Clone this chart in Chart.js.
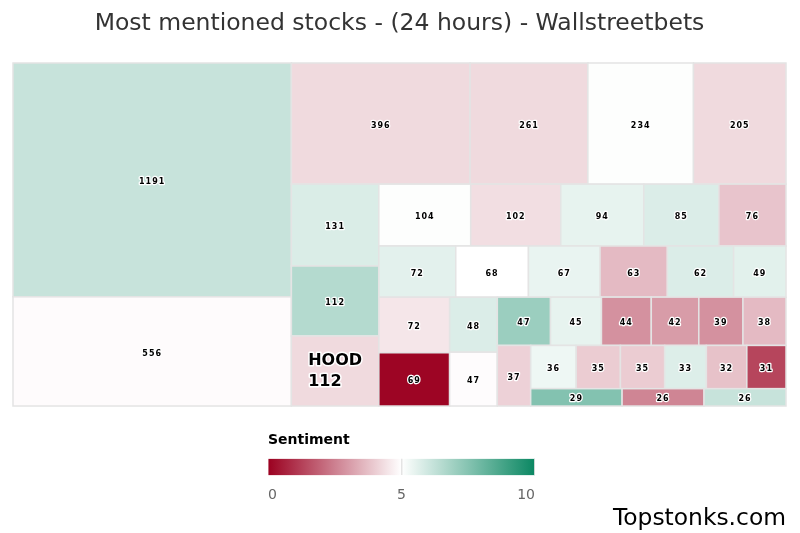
<!DOCTYPE html>
<html>
<head>
<meta charset="utf-8">
<script src="https://cdn.jsdelivr.net/npm/chart.js@4.4.1/dist/chart.umd.min.js"></script>
<style>
  html, body { margin: 0; padding: 0; background: #fff; }
  #wrap { position: relative; width: 800px; height: 533px; }
  #mainChart { position: absolute; left: 0; top: 0; }
  #scaleChart { position: absolute; left: 268px; top: 428px; }
</style>
</head>
<body>
<div id="wrap">
  <canvas id="mainChart" width="800" height="533"></canvas>
  <canvas id="scaleChart" width="267" height="76"></canvas>
</div>
<script>
// mentions in 24h, in the order the tiles are laid out
const mentions = [1191, 556, 396, 261, 234, 205, 131, 112, 112, 104, 102, 94, 85, 76,
  72, 68, 67, 63, 62, 49, 72, 69, 48, 47, 47, 45, 44, 42, 39, 38, 37,
  36, 35, 35, 33, 32, 31, 29, 26, 26];
// sentiment 0..10 (colour of the tile)
const sentiment = [6.15, 4.93, 4.27, 4.27, 5.05, 4.27, 5.75, 6.53, 4.27, 5.05, 4.35, 5.5, 5.73, 3.85,
  5.57, 5.0, 5.45, 3.65, 5.73, 5.6, 4.5, 0.1, 5.73, 4.95, 7.04, 5.5, 2.85, 3.05, 2.85, 3.65, 4.1,
  5.35, 4.0, 4.0, 5.7, 3.8, 1.35, 7.53, 2.6, 6.15];
// tickers that are written on the tiles (only one is shown)
const tickers = ['', '', '', '', '', '', '', '', 'HOOD', '', '', '', '', '',
  '', '', '', '', '', '', '', '', '', '', '', '', '', '', '', '', '',
  '', '', '', '', '', '', '', '', ''];
// segment of the treemap each tile belongs to
const segment = [0, 0, 1, 1, 1, 1, 2, 2, 2, 3, 3, 3, 3, 3,
  4, 4, 4, 4, 4, 4, 5, 5, 6, 6, 7, 7, 7, 7, 7, 7, 8,
  9, 9, 9, 9, 9, 9, 10, 10, 10];
const sentimentTicks = [0, 5, 10];

const titleText = 'Most mentioned stocks - (24 hours) - Wallstreetbets';
const fontFamily = '"DejaVu Sans", Verdana, sans-serif';

const RED = [155, 0, 32];
const GREEN = [10, 135, 98];

function sentimentColor(v) {
  var t, c;
  if (v < 5) { t = (5 - v) / 5; c = RED; }
  else { t = (v - 5) / 5; c = GREEN; }
  const r = Math.round(255 + (c[0] - 255) * t);
  const g = Math.round(255 + (c[1] - 255) * t);
  const b = Math.round(255 + (c[2] - 255) * t);
  return 'rgb(' + r + ',' + g + ',' + b + ')';
}

// every segment becomes a strip, laid along the side that keeps its tiles squarest
function layoutSegments(vals, segs, w, h) {
  const total = vals.reduce((a, b) => a + b, 0);
  const k = w * h / total;
  var rx = 0, ry = 0, rw = w, rh = h;
  const out = [];
  const order = [...new Set(segs)];
  order.forEach(s => {
    const idx = vals.map((v, i) => i).filter(i => segs[i] === s);
    const area = idx.reduce((a, i) => a + vals[i] * k, 0);
    const worst = (len) => {
      const t = area / len;
      return Math.max(...idx.map(i => {
        const l = vals[i] * k / t;
        return Math.max(l / t, t / l);
      }));
    };
    if (worst(rh) <= worst(rw)) {
      const t = area / rh;
      var yy = ry;
      idx.forEach(i => {
        const l = vals[i] * k / t;
        out[i] = { x: rx, y: yy, w: t, h: l };
        yy += l;
      });
      rx += t; rw -= t;
    } else {
      const t = area / rw;
      var xx = rx;
      idx.forEach(i => {
        const l = vals[i] * k / t;
        out[i] = { x: xx, y: ry, w: l, h: t };
        xx += l;
      });
      ry += t; rh -= t;
    }
  });
  return out;
}

const haloText = (ctx, text, x, y) => {
  ctx.strokeText(text, x, y);
  ctx.fillText(text, x, y);
};

const treemapCells = {
  id: 'treemapCells',
  afterDatasetsDraw(chart) {
    const { ctx, chartArea, scales } = chart;
    const cw = chartArea.width, chh = chartArea.height;
    const cells = layoutSegments(mentions, segment, cw, chh);
    ctx.save();
    cells.forEach((c, i) => {
      const x0 = scales.x.getPixelForValue(100 * c.x / cw);
      const x1 = scales.x.getPixelForValue(100 * (c.x + c.w) / cw);
      const y0 = scales.y.getPixelForValue(100 * c.y / chh);
      const y1 = scales.y.getPixelForValue(100 * (c.y + c.h) / chh);
      ctx.fillStyle = sentimentColor(sentiment[i]);
      ctx.fillRect(x0, y0, x1 - x0, y1 - y0);
      ctx.strokeStyle = '#e4e4e4';
      ctx.lineWidth = 1.5;
      ctx.strokeRect(x0, y0, x1 - x0, y1 - y0);
    });
    // labels
    ctx.lineJoin = 'round';
    ctx.strokeStyle = '#fff';
    ctx.fillStyle = '#000';
    ctx.textBaseline = 'middle';
    cells.forEach((c, i) => {
      const cx = scales.x.getPixelForValue(100 * (c.x + c.w / 2) / cw);
      const cy = scales.y.getPixelForValue(100 * (c.y + c.h / 2) / chh);
      if (tickers[i]) {
        ctx.font = 'bold 16px ' + fontFamily;
        ctx.letterSpacing = '0px';
        ctx.lineWidth = 3;
        const tw = ctx.measureText(tickers[i]).width;
        ctx.textAlign = 'left';
        haloText(ctx, tickers[i], cx - tw / 2, cy - 10);
        haloText(ctx, String(mentions[i]), cx - tw / 2, cy + 11);
      } else {
        ctx.font = 'bold 8px ' + fontFamily;
        ctx.letterSpacing = '1px';
        ctx.lineWidth = 2.5;
        ctx.textAlign = 'center';
        haloText(ctx, String(mentions[i]), cx, cy + 2);
      }
    });
    ctx.restore();
  }
};

const mainChart = new Chart(document.getElementById('mainChart'), {
  type: 'scatter',
  data: { datasets: [{ data: [], pointRadius: 0 }] },
  plugins: [treemapCells],
  options: {
    responsive: false,
    animation: false,
    layout: { padding: { left: 13, right: 14, top: 0, bottom: 0 } },
    scales: {
      x: { type: 'linear', min: 0, max: 100, display: false },
      y: { type: 'linear', min: 0, max: 100, reverse: true, display: false }
    },
    plugins: {
      legend: { display: false },
      tooltip: { enabled: false },
      title: {
        display: true,
        text: titleText,
        color: '#333',
        font: { family: fontFamily, size: 23.5, weight: 'normal' },
        padding: { top: 9.5, bottom: 25.3 }
      },
      subtitle: {
        display: true,
        text: 'Topstonks.com',
        position: 'bottom',
        align: 'end',
        color: '#000',
        font: { family: fontFamily, size: 23.4, weight: 'normal' },
        padding: { top: 98.4, bottom: 0.5 }
      }
    }
  }
});

// colour scale under the treemap
const scaleChart = new Chart(document.getElementById('scaleChart'), {
  type: 'bar',
  data: {
    labels: ['Sentiment'],
    datasets: [{
      data: [[sentimentTicks[0], sentimentTicks[sentimentTicks.length - 1]]],
      backgroundColor: (c) => {
        const ch = c.chart;
        if (!ch.chartArea) return sentimentColor(5);
        const sx = ch.scales.x;
        const g = ch.ctx.createLinearGradient(sx.getPixelForValue(0), 0, sx.getPixelForValue(10), 0);
        for (var v = 0; v <= 10; v += 0.5) g.addColorStop(v / 10, sentimentColor(v));
        return g;
      },
      borderWidth: 0,
      borderSkipped: false,
      barPercentage: 1,
      categoryPercentage: 1
    }]
  },
  options: {
    indexAxis: 'y',
    responsive: false,
    animation: false,
    layout: { padding: 0 },
    scales: {
      x: {
        type: 'linear', min: 0, max: 10,
        afterBuildTicks: (axis) => { axis.ticks = sentimentTicks.map(v => ({ value: v })); },
        ticks: { align: 'inner', color: '#666', padding: 0, font: { family: fontFamily, size: 14 } },
        grid: {
          drawTicks: true,
          tickLength: 12,
          tickColor: 'rgba(0,0,0,0)',
          lineWidth: 1.5,
          z: 1,
          color: (c) => (c.tick && c.tick.value > 0) ? 'rgba(225,225,225,0.9)' : 'rgba(0,0,0,0)'
        },
        border: { display: false }
      },
      y: { display: false }
    },
    plugins: {
      legend: { display: false },
      tooltip: { enabled: false },
      title: {
        display: true,
        text: 'Sentiment',
        align: 'start',
        color: '#000',
        font: { family: fontFamily, size: 14, weight: 'bold' },
        padding: { top: 4, bottom: 10 }
      }
    }
  }
});
</script>
</body>
</html>
